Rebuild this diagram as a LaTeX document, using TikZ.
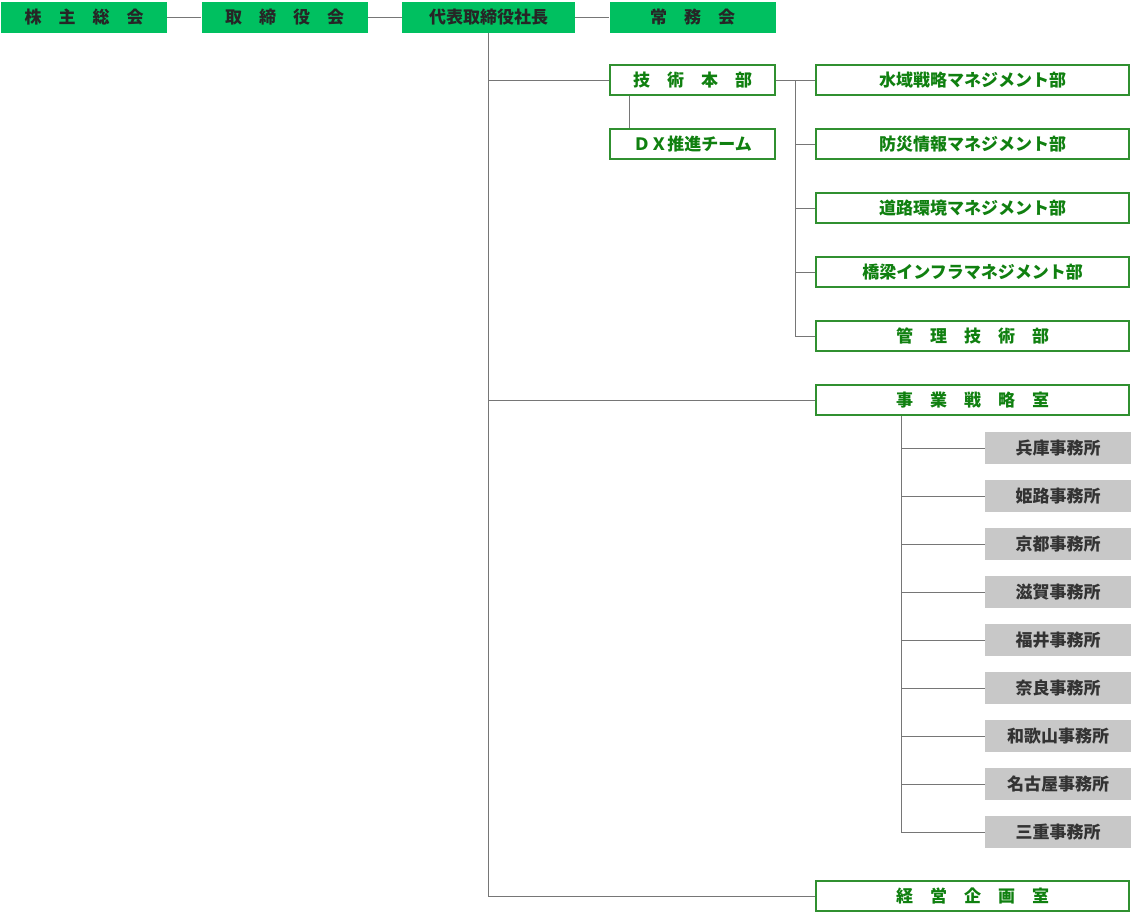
\documentclass[tikz,border=0pt]{standalone}
\usepackage{fontspec}
\newfontfamily\cjk{Noto Sans CJK JP}
\definecolor{boardgreen}{RGB}{0,192,96}
\definecolor{linegreen}{RGB}{48,144,48}
\definecolor{textgreen}{RGB}{16,128,16}
\definecolor{officegray}{RGB}{200,200,200}
\definecolor{wiregray}{RGB}{118,118,118}
\begin{document}
\begin{tikzpicture}[x=1pt,y=-1pt,
  board/.style={fill=boardgreen,text=black!85,minimum width=166,minimum height=31,inner sep=0,
    font=\cjk\bfseries\fontsize{17}{19}\selectfont},
  dept/.style={draw=linegreen,line width=2,text=textgreen,minimum width=165,minimum height=30,inner sep=0,
    font=\cjk\bfseries\fontsize{17}{19}\selectfont},
  wide/.style={dept,minimum width=313},
  office/.style={fill=officegray,text=black!80,minimum width=146,minimum height=32,inner sep=0,
    font=\cjk\bfseries\fontsize{17}{19}\selectfont},
  wire/.style={draw=wiregray,line width=1}]
\useasboundingbox (0,0) rectangle (1131,913);
% top row
\node[board] (kabunushi) at (84,17) {株　主　総　会};
\node[board] (torishimari) at (284.5,17) {取　締　役　会};
\node[board,minimum width=173] (shacho) at (488.5,17) {代表取締役社長};
\node[board] (jomu) at (692.5,17) {常　務　会};
\draw[wire] (kabunushi) -- (torishimari);
\draw[wire] (torishimari) -- (shacho);
\draw[wire] (shacho) -- (jomu);
% technical headquarters
\node[dept] (honbu) at (692.5,80) {技　術　本　部};
\node[dept] (dx) at (692.5,144) {ＤＸ推進チーム};
\foreach \txt [count=\i] in {水域戦略マネジメント部,防災情報マネジメント部,道路環境マネジメント部,
    橋梁インフラマネジメント部,管　理　技　術　部}
  \node[wide] (bu\i) at (972.5,16+64*\i) {\txt};
\node[wide] (jigyo) at (972.5,400) {事　業　戦　略　室};
\node[wide] (keiei) at (972.5,896) {経　営　企　画　室};
% offices
\foreach \name [count=\i] in {兵庫,姫路,京都,滋賀,福井,奈良,和歌山,名古屋,三重}
  \node[office] (of\i) at (1058,400+48*\i) {\name{}事務所};
% trunk
\draw[wire] (shacho.south) |- (keiei.west);
\draw[wire] (shacho.south |- honbu.west) -- (honbu.west);
\draw[wire] (shacho.south |- jigyo.west) -- (jigyo.west);
\draw[wire] ([xshift=20]honbu.south west) -- ([xshift=20]dx.north west);
\coordinate (gbus) at (795,80);
\draw[wire] (honbu.east) -- (bu1.west);
\draw[wire] (gbus) |- (bu5.west);
\foreach \i in {2,3,4}
  \draw[wire] (gbus |- bu\i.west) -- (bu\i.west);
\coordinate (obus) at (901,416);
\draw[wire] (obus) |- (of9.west);
\foreach \i in {1,...,8}
  \draw[wire] (obus |- of\i.west) -- (of\i.west);
\end{tikzpicture}
\end{document}
